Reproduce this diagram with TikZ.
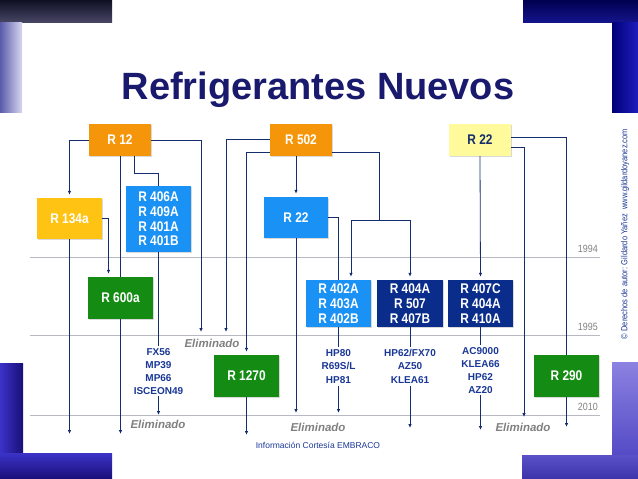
\documentclass[tikz,border=0pt]{standalone}
\usepackage{fontspec}
\setmainfont{Liberation Sans}
\newfontfamily\condfont{Liberation Sans}[FakeStretch=0.85]
\usetikzlibrary{arrows.meta,shadows}
\definecolor{titleblue}{RGB}{25,25,110}
\definecolor{lineblue}{RGB}{20,45,110}
\definecolor{listblue}{RGB}{25,55,150}
\definecolor{rorange}{RGB}{245,150,10}
\definecolor{rgold}{RGB}{255,195,20}
\definecolor{rpale}{RGB}{255,250,155}
\definecolor{rblue}{RGB}{25,145,245}
\definecolor{rnavy}{RGB}{10,45,140}
\definecolor{rgreen}{RGB}{20,140,20}
\definecolor{yeargray}{RGB}{185,185,195}
\definecolor{elimgray}{RGB}{128,128,128}
\begin{document}
\begin{tikzpicture}[x=1pt,y=-1pt,
  box/.style={minimum width=65pt, minimum height=42pt, inner sep=0pt, align=center,
    text=white, font=\condfont\bfseries\fontsize{14}{14.7}\selectfont,
    drop shadow={shadow xshift=1pt, shadow yshift=-1pt, opacity=0.3}},
  mix/.style={anchor=north, inner sep=2pt, align=center, text=listblue,
    font=\bfseries\fontsize{10}{13}\selectfont},
  elim/.style={text=elimgray, font=\bfseries\itshape\fontsize{11.5}{12}\selectfont},
  year/.style={anchor=south east, inner sep=1pt, text=elimgray,
    font=\condfont\fontsize{10.5}{11}\selectfont},
  yearline/.style={draw=yeargray, line width=0.8pt},
  conn/.style={draw=lineblue, line width=0.8pt},
  arr/.style={conn, -{Latex[length=4pt,width=3.5pt]}},
  tobox/.style={arr, shorten >=3pt}]
\useasboundingbox (0,0) rectangle (638,479);
% corner frames
\shade[top color={rgb,255:red,15;green,15;blue,35}, bottom color={rgb,255:red,70;green,70;blue,100}] (0,0) rectangle (112,22);
\shade[left color={rgb,255:red,90;green,90;blue,170}, right color={rgb,255:red,215;green,215;blue,240}] (0,22) rectangle (22,112);
\shade[top color={rgb,255:red,0;green,0;blue,80}, bottom color={rgb,255:red,20;green,20;blue,140}] (523,0) rectangle (638,22);
\shade[left color={rgb,255:red,0;green,0;blue,120}, right color={rgb,255:red,30;green,30;blue,190}] (612,22) rectangle (638,112);
\shade[left color={rgb,255:red,60;green,50;blue,200}, right color={rgb,255:red,25;green,15;blue,120}] (0,363) rectangle (23,479);
\shade[top color={rgb,255:red,60;green,50;blue,200}, bottom color={rgb,255:red,25;green,15;blue,120}] (0,453) rectangle (112,479);
\shade[top color={rgb,255:red,140;green,130;blue,225}, bottom color={rgb,255:red,70;green,60;blue,190}] (612,362) rectangle (638,479);
\shade[top color={rgb,255:red,90;green,80;blue,200}, bottom color={rgb,255:red,60;green,50;blue,170}] (522,455) rectangle (638,479);
% title
\node[anchor=base, text=titleblue, font=\bfseries\fontsize{38}{38}\selectfont] (title) at (318,99) {Refrigerantes Nuevos};
% years
\draw[yearline] (30,257) -- (600,257);
\draw[yearline] (30,335) -- (600,335);
\draw[yearline] (30,415) -- (600,415);
\node[year] (y94) at (599,254) {1994};
\node[year] (y95) at (599,332) {1995};
\node[year] (y10) at (599,412) {2010};
% refrigerant boxes
\node[box, fill=rorange, minimum width=62pt, minimum height=32pt] (r12) at (120,140) {R 12};
\node[box, fill=rorange, minimum width=62pt, minimum height=32pt] (r502) at (301,140) {R 502};
\node[box, fill=rpale, text=lineblue, minimum width=62pt, minimum height=32pt] (r22a) at (480,140) {R 22};
\node[box, fill=rgold, minimum height=41pt] (r134a) at (69.5,218.5) {R 134a};
\node[box, fill=rblue, minimum height=66pt] (r406) at (158.5,219) {R 406A\\R 409A\\R 401A\\R 401B};
\node[box, fill=rblue, minimum width=64pt, minimum height=41pt] (r22b) at (296,217.5) {R 22};
\node[box, fill=rgreen] (r600a) at (120.5,298) {R 600a};
\node[box, fill=rblue, minimum height=47pt] (r402) at (338.5,303.5) {R 402A\\R 403A\\R 402B};
\node[box, fill=rnavy, minimum width=66pt, minimum height=47pt] (r404) at (410,303.5) {R 404A\\R 507\\R 407B};
\node[box, fill=rnavy, minimum height=47pt] (r407) at (480.5,303.5) {R 407C\\R 404A\\R 410A};
\node[box, fill=rgreen] (r1270) at (246.5,376) {R 1270};
\node[box, fill=rgreen] (r290) at (566.5,376) {R 290};
% blends
\node[mix] (mix406) at (158.5,346) {FX56\\MP39\\MP66\\ISCEON49};
\node[mix, font=\bfseries\fontsize{10}{13.8}\selectfont] (mix402) at (338.5,347) {HP80\\R69S/L\\HP81};
\node[mix, font=\bfseries\fontsize{10}{13.5}\selectfont] (mix404) at (410,347) {HP62/FX70\\AZ50\\KLEA61};
\node[mix] (mix407) at (480.5,345) {AC9000\\KLEA66\\HP62\\AZ20};
% labels
\node[elim] (elimA) at (212,343) {Eliminado};
\node[elim] (elimB) at (158,424) {Eliminado};
\node[elim] (elimC) at (318,427) {Eliminado};
\node[elim] (elimD) at (523,427) {Eliminado};
\node[text=listblue, font=\fontsize{8.5}{9}\selectfont] (info) at (318,445) {Información Cortesía EMBRACO};
\node[rotate=90, text=listblue, font=\condfont\fontsize{8.8}{9}\selectfont] (copy) at (625,234) {© Derechos de autor: Gildardo Yañez\enspace www.gildardoyanez.com};
% free ends
\coordinate (endA) at (201,332);
\coordinate (endB) at (69.5,434);
\coordinate (endC) at (120.5,434);
\coordinate (endD) at (158.5,415);
\coordinate (endE) at (226,332);
\coordinate (endF) at (296,413);
\coordinate (endG) at (338.5,413);
\coordinate (endH) at (410,428);
\coordinate (endI) at (480.5,430);
\coordinate (endJ) at (524,417);
\coordinate (endK) at (566.5,427);
\coordinate (endL) at (246.5,435);
\coordinate (split) at (379,220);
% from R 12
\draw[tobox] (r12.west) -| (r134a.north);
\draw[conn] (r12.south) -- (r12.south |- r600a.north);
\draw[conn] ([xshift=14pt]r12.south) -- ++(0,17) -| (r406.north);
\draw[arr] (r12.east) -| (endA);
\draw[tobox] (r134a.east) -| ([xshift=-12pt]r600a.north);
\draw[arr] (r134a.south) -- (endB);
\draw[arr] (r600a.south) -- (endC);
\draw[conn] (r406.south) -- (mix406.north);
\draw[arr] (mix406.south) -- (endD);
% from R 502
\draw[arr] ([yshift=1pt]r502.west) -| (endE);
\draw[tobox] ([yshift=-12pt]r502.west) -| (r1270.north);
\draw[tobox] (r22b.north |- r502.south) -- (r22b.north);
\draw[conn] ([yshift=-12pt]r502.east) -| (split);
\draw[tobox] (split) -| ([xshift=12.5pt]r402.north);
\draw[tobox] (split) -| (r404.north);
\draw[conn] (r22b.east) -| (r402.north);
\draw[arr] (r22b.south) -- (endF);
\draw[conn] (r402.south) -- (mix402.north);
\draw[arr] (mix402.south) -- (endG);
\draw[conn] (r404.south) -- (mix404.north);
\draw[arr] (mix404.south) -- (endH);
% from R 22
\draw[tobox] (r22a.south) -- (r407.north);
\draw[conn] (r407.south) -- (mix407.north);
\draw[arr] (mix407.south) -- (endI);
\draw[conn] ([yshift=3pt]r22a.east) -| (r290.north);
\draw[arr] ([yshift=-7pt]r22a.east) -| (endJ);
\draw[arr] (r290.south) -- (endK);
\draw[arr] (r1270.south) -- (endL);
\end{tikzpicture}
\end{document}
